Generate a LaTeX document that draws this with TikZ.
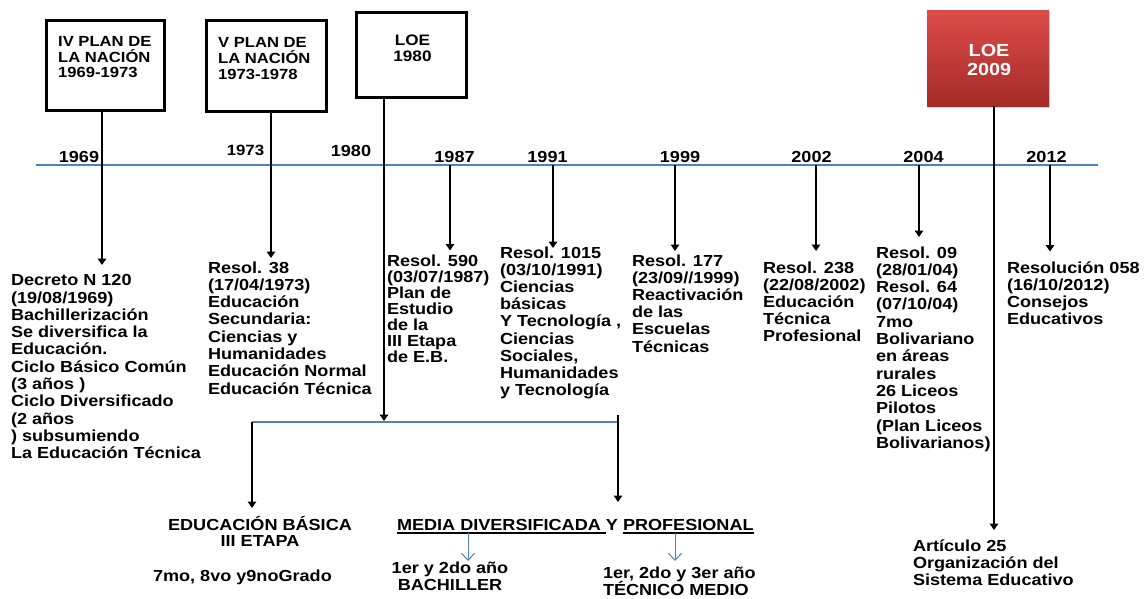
\documentclass[tikz,border=0pt]{standalone}
\usepackage{fontspec}
\setmainfont{Liberation Sans}[FakeStretch=1.13]
\usetikzlibrary{arrows.meta,shadows}
\definecolor{tlblue}{RGB}{79,129,189}
\definecolor{redtop}{RGB}{221,76,73}
\definecolor{redbot}{RGB}{164,43,41}
\newcommand\myul[1]{\leavevmode\setbox0\hbox{#1}\rlap{\rule[-3.8pt]{\wd0}{1.5pt}}\box0}
\newcommand\fs[2]{\fontsize{#1}{#2}\selectfont\lineskiplimit=-50pt\relax}
\begin{document}
\begin{tikzpicture}[x=1pt,y=-1pt,
  body/.style={font=\bfseries\fs{16}{17.3}, inner sep=0pt, outer sep=0pt},
  txt/.style={body, align=left, anchor=base west},
  ctxt/.style={body, align=center, anchor=base},
  yr/.style={body, anchor=base},
  boxtxt/.style={inner sep=0pt, align=left, anchor=base west},
  bx/.style={draw, line width=2.6pt, inner sep=0pt},
  conn/.style={line width=1.5pt, -{Triangle[length=6.5pt,width=8.5pt]}},
  bconn/.style={tlblue, line width=1pt, -{Straight Barb[length=7pt,width=13pt]}},
  hline/.style={tlblue, line width=1.2pt}]
\useasboundingbox (0,0) rectangle (1145,598);

% boxes
\node[bx, minimum width=118.4pt, minimum height=90.4pt] (b1) at (105.5,65.5) {};
\node[bx, minimum width=120.4pt, minimum height=91.4pt] (b2) at (266.5,66) {};
\node[bx, minimum width=110.4pt, minimum height=85.4pt] (b3) at (411.5,55) {};
\node[inner sep=0pt, minimum width=122pt, minimum height=96pt, top color=redtop, bottom color=redbot,
      drop shadow={opacity=0.3, shadow xshift=1.2pt, shadow yshift=-1.8pt}] (b4) at (988,58) {};

% (multi-line nodes: base anchor = baseline of the last line)
\node[boxtxt, font=\bfseries\fs{14.7}{15.3}] (b1t) at (58,77.3) {IV PLAN DE\\LA NACIÓN\\1969-1973};
\node[boxtxt, font=\bfseries\fs{14.7}{16}] (b2t) at (218,79.3) {V PLAN DE\\LA NACIÓN\\1973-1978};
\node[font=\bfseries\fs{15.2}{16}, inner sep=0pt, align=center, anchor=base] (b3t) at (412.5,61.7) {LOE\\1980};
\node[font=\bfseries\fs{17.5}{19}, text=white, inner sep=0pt, align=center, anchor=base] (b4t) at (989,75) {LOE\\2009};

% timeline
\coordinate (tlL) at (36,165);
\coordinate (tlR) at (1098,165);
\draw[hline] (tlL) -- (tlR);

% year labels
\node[yr] (y1969) at (79,162.7) {1969};
\node[yr, font=\bfseries\fs{14.9}{16}] (y1973) at (245.5,155) {1973};
\node[yr] (y1980) at (351,156) {1980};
\node[yr] (y1987) at (454.5,162.7) {1987};
\node[yr] (y1991) at (547.5,162.7) {1991};
\node[yr] (y1999) at (680,162.7) {1999};
\node[yr] (y2002) at (811.5,162.7) {2002};
\node[yr] (y2004) at (923.5,162.7) {2004};
\node[yr] (y2012) at (1046.5,162.7) {2012};

% arrow end coordinates
\coordinate (e1) at (102,265);
\coordinate (e2) at (271,258);
\coordinate (e3) at (384,421);
\coordinate (e87) at (450,250.5);
\coordinate (e91) at (553,248);
\coordinate (e99) at (675,251);
\coordinate (e02) at (816,251);
\coordinate (e04) at (919,237);
\coordinate (e09) at (994,530);
\coordinate (e12) at (1050,251.5);

\draw[conn] (b1.south -| e1) -- (e1);
\draw[conn] (b2.south -| e2) -- (e2);
\draw[conn] (b3.south -| e3) -- (e3);
\draw[conn] (b4.south -| e09) -- (e09);
\draw[conn] (tlL -| e87) -- (e87);
\draw[conn] (tlL -| e91) -- (e91);
\draw[conn] (tlL -| e99) -- (e99);
\draw[conn] (tlL -| e02) -- (e02);
\draw[conn] (tlL -| e04) -- (e04);
\draw[conn] (tlL -| e12) -- (e12);

% event texts
\node[txt] (t1969) at (11,458.7) {Decreto N 120\\(19/08/1969)\\Bachillerización\\Se diversifica la\\Educación.\\Ciclo Básico Común\\(3 años )\\Ciclo Diversificado\\(2 años\\) subsumiendo\\La Educación Técnica};
\node[txt] (t1973) at (208,394.1) {Resol. 38\\(17/04/1973)\\Educación\\Secundaria:\\Ciencias y\\Humanidades\\Educación Normal\\Educación Técnica};
\node[txt, font=\bfseries\fs{16}{16}] (t1987) at (387,362) {Resol. 590\\(03/07/1987)\\Plan de\\Estudio\\de la\\III Etapa\\de E.B.};
\node[txt, font=\bfseries\fs{16}{17.2}] (t1991) at (500,395.6) {Resol. 1015\\(03/10/1991)\\Ciencias\\básicas\\Y Tecnología ,\\Ciencias\\Sociales,\\Humanidades\\y Tecnología};
\node[txt, font=\bfseries\fs{16}{17.2}] (t1999) at (632,352) {Resol. 177\\(23/09//1999)\\Reactivación\\de las\\Escuelas\\Técnicas};
\node[txt, font=\bfseries\fs{16}{17.2}] (t2002) at (763,341.8) {Resol. 238\\(22/08/2002)\\Educación\\Técnica\\Profesional};
\node[txt] (t2004) at (876,448.3) {Resol. 09\\(28/01/04)\\Resol. 64\\(07/10/04)\\7mo\\Bolivariano\\en áreas\\rurales\\26 Liceos\\Pilotos\\(Plan Liceos\\Bolivarianos)};
\node[txt] (t2012) at (1007,324.9) {Resolución 058\\(16/10/2012)\\Consejos\\Educativos};

% branch
\coordinate (brL) at (252,422);
\coordinate (brR) at (618,422);
\coordinate (brRt) at (618,415);
\coordinate (eEB) at (252,508);
\coordinate (eMD) at (618,502);
\draw[hline] (brL) -- (brR);
\draw[conn] (brL) -- (eEB);
\draw[conn] (brRt) -- (eMD);

\node[ctxt, font=\bfseries\fs{16}{16.7}] (eb) at (260,546.7) {EDUCACIÓN BÁSICA\\III ETAPA};
\node[txt] (grado) at (153,581.7) {7mo, 8vo y9noGrado};
\node[txt] (md) at (397,530) {\myul{MEDIA DIVERSIFICADA }Y \myul{PROFESIONAL}};

\coordinate (s1) at (468,533);
\coordinate (f1) at (468,561);
\coordinate (s2) at (675,533);
\coordinate (f2) at (675,561);
\draw[bconn] (s1) -- (f1);
\draw[bconn] (s2) -- (f2);

\node[ctxt, font=\bfseries\fs{16}{17.4}] (bach) at (450,590.7) {1er y 2do año\\BACHILLER};
\node[txt, font=\bfseries\fs{16}{16.5}] (tec) at (603,595) {1er, 2do y 3er año\\TÉCNICO MEDIO};
\node[txt, font=\bfseries\fs{16}{17}] (art) at (913,585.7) {Artículo 25\\Organización del\\Sistema Educativo};
\end{tikzpicture}
\end{document}
